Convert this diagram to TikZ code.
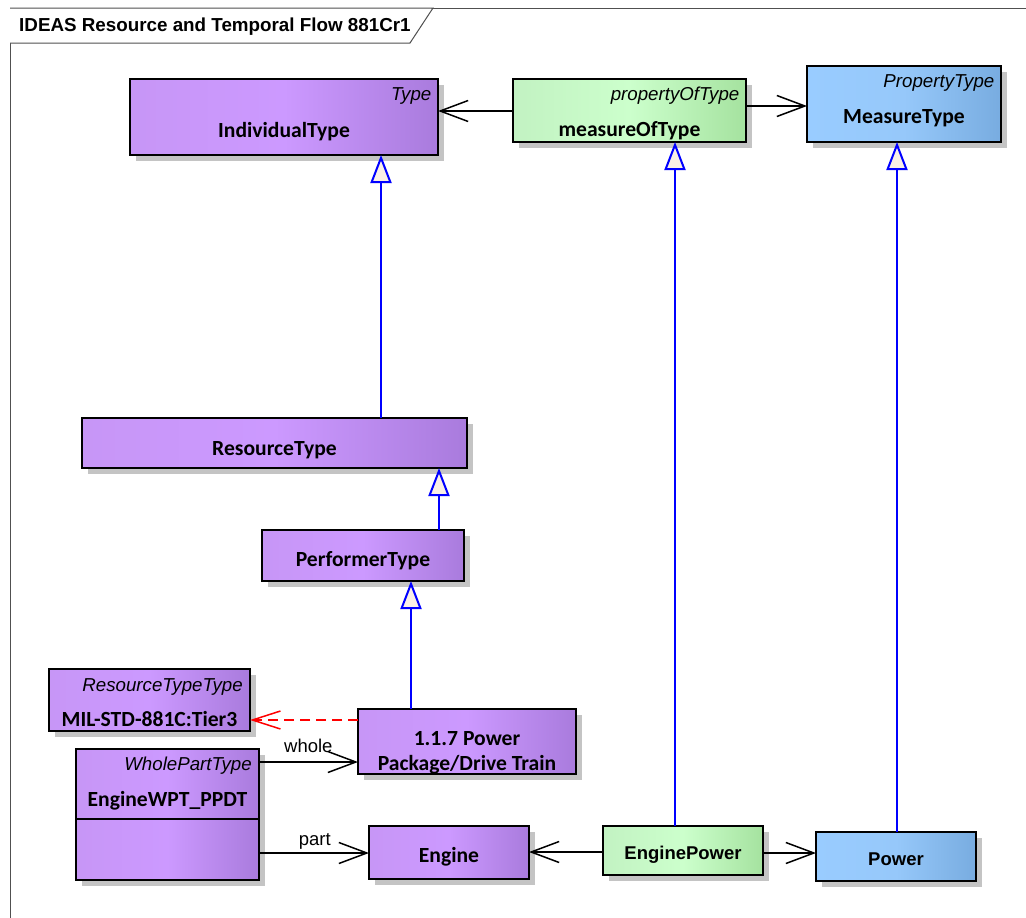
\documentclass[tikz,border=0pt]{standalone}
\usepackage{fontspec}
\setmainfont{Carlito}
\newfontfamily\arialfont{Liberation Sans}
\usetikzlibrary{arrows.meta,shadows,calc}

\definecolor{purL}{HTML}{C796F6}
\definecolor{purM}{HTML}{CC99FF}
\definecolor{purR}{HTML}{A97BDD}
\definecolor{grnL}{HTML}{C2F2C2}
\definecolor{grnM}{HTML}{CCFFCC}
\definecolor{grnR}{HTML}{A5E29F}
\definecolor{bluL}{HTML}{99CCFF}
\definecolor{bluM}{HTML}{96C8FA}
\definecolor{bluR}{HTML}{78ACE0}
\definecolor{shadowgray}{HTML}{C4C4C4}
\definecolor{genfill}{HTML}{FAF0E6}
\definecolor{framegray}{HTML}{505050}

\tikzset{
  umlbox/.style={draw=black, line width=2pt, inner sep=0pt, outer sep=0pt,
    drop shadow={shadow xshift=6pt, shadow yshift=-6pt, fill=shadowgray, opacity=1}},
  purplebox/.style={umlbox, left color=purL, right color=purR, middle color=purM},
  greenbox/.style={umlbox, left color=grnL, right color=grnR, middle color=grnM},
  bluebox/.style={umlbox, left color=bluL, right color=bluR, middle color=bluM},
  nametext/.style={inner sep=0pt, anchor=base, align=center,
    font=\fontsize{21.6}{25}\selectfont\bfseries},
  arialname/.style={inner sep=0pt, anchor=base,
    font=\arialfont\bfseries\fontsize{18.5}{22}\selectfont},
  stereotext/.style={inner sep=0pt, anchor=base east,
    font=\arialfont\itshape\fontsize{18.7}{22}\selectfont},
  roletext/.style={inner sep=0pt, anchor=base west,
    font=\arialfont\fontsize{18.5}{22}\selectfont},
  assoc/.style={draw=black, line width=1.5pt,
    -{Straight Barb[length=28pt, width=21pt, line width=1.5pt]}},
  gen/.style={draw=blue, line width=2pt,
    -{Triangle[length=28pt, width=21pt, fill=genfill, line width=2pt]}},
  depend/.style={draw=red, line width=1.5pt, dash pattern=on 10pt off 6pt,
    -{Straight Barb[length=28pt, width=18pt, line width=1.5pt]}},
}

\begin{document}
\begin{tikzpicture}[x=1pt, y=-1pt]
\useasboundingbox (0,0) rectangle (1026,918);
\fill[white] (0,0) rectangle (1026,918);

% diagram frame and its title tab
\draw[framegray, line width=1pt] (10,918) -- (10,8) -- (1026,8);
\draw[framegray, line width=1pt, fill=white] (10,8) -- (433,8) -- (410,43) -- (10,43);
\node[inner sep=0pt, anchor=base west, font=\arialfont\bfseries\fontsize{18.8}{22}\selectfont]
  (title) at (19,31.7) {IDEAS Resource and Temporal Flow 881Cr1};

% classes
\node[purplebox, minimum width=308pt, minimum height=76pt] (indiv) at (284,117) {};
\node[greenbox,  minimum width=233pt, minimum height=63pt] (mot)   at (629.5,110.5) {};
\node[bluebox,   minimum width=194pt, minimum height=76pt] (meas)  at (904,104) {};
\node[purplebox, minimum width=385pt, minimum height=50pt] (res)   at (274.5,443) {};
\node[purplebox, minimum width=202pt, minimum height=51pt] (perf)  at (363,555.5) {};
\node[purplebox, minimum width=201pt, minimum height=62pt] (mil)   at (149.5,700) {};
\node[purplebox, minimum width=218pt, minimum height=65pt] (ppdt)  at (467,741.5) {};
\node[purplebox, minimum width=183pt, minimum height=131pt] (wpt)  at (167.5,814.5) {};
\node[purplebox, minimum width=160pt, minimum height=53pt] (engine) at (449,852.5) {};
\node[greenbox,  minimum width=160pt, minimum height=49pt] (ep)    at (683,850.5) {};
\node[bluebox,   minimum width=160pt, minimum height=49pt] (power) at (896,856.5) {};

% compartment line of the whole-part class
\coordinate (wptdiv) at (0,819);
\draw[black, line width=1.5pt] (wpt.west |- wptdiv) -- (wpt.east |- wptdiv);

% stereotypes
\node[stereotext] (indivst) at ($(indiv.north east)+(-6.5,21)$) {Type};
\node[stereotext] (motst)   at ($(mot.north east)+(-6.5,21.5)$) {propertyOfType};
\node[stereotext] (measst)  at ($(meas.north east)+(-6.5,21)$) {PropertyType};
\node[stereotext] (milst)   at ($(mil.north east)+(-7,22)$) {ResourceTypeType};
\node[stereotext] (wptst)   at ($(wpt.north east)+(-7,21.5)$) {WholePartType};

% class names
\node[nametext] (indivname)  at ($(indiv.north)+(0,58)$) {IndividualType};
\node[nametext] (motname)    at ($(mot.north)+(0,57)$) {measureOfType};
\node[nametext] (measname)   at ($(meas.north)+(0,57.5)$) {MeasureType};
\node[nametext] (resname)    at ($(res.north)+(0,37)$) {ResourceType};
\node[nametext] (perfname)   at ($(perf.north)+(0,36.7)$) {PerformerType};
\node[nametext] (milname)    at ($(mil.north)+(0,57)$) {MIL-STD-881C:Tier3};
\node[nametext] (ppdtname)   at ($(ppdt.north)+(0,61.7)$) {1.1.7 Power\\Package/Drive Train};
\node[nametext] (wptname)    at ($(wpt.north)+(0,57)$) {EngineWPT\_PPDT};
\node[nametext] (enginename) at ($(engine.north)+(0,36.7)$) {Engine};
\node[arialname] (epname)    at ($(ep.north)+(0,33)$) {EnginePower};
\node[arialname] (powername) at ($(power.north)+(0,33)$) {Power};

% generalizations
\coordinate (gx1) at (381,0);
\coordinate (gx2) at (439,0);
\coordinate (gx3) at (411,0);
\coordinate (gx4) at (675,0);
\coordinate (gx5) at (897,0);
\draw[gen] (res.north -| gx1)  -- (indiv.south -| gx1);
\draw[gen] (perf.north -| gx2) -- (res.south -| gx2);
\draw[gen] (ppdt.north -| gx3) -- (perf.south -| gx3);
\draw[gen] (ep.north -| gx4)   -- (mot.south -| gx4);
\draw[gen] (power.north -| gx5) -- (meas.south -| gx5);

% associations
\coordinate (ay1) at (0,111);
\coordinate (ay2) at (0,106);
\coordinate (ay3) at (0,762);
\coordinate (ay4) at (0,853);
\coordinate (ay5) at (0,852);
\draw[assoc] (mot.west |- ay1) -- (indiv.east |- ay1);
\draw[assoc] (mot.east |- ay2) -- (meas.west |- ay2);
\draw[assoc] (wpt.east |- ay3) -- (ppdt.west |- ay3);
\draw[assoc] (wpt.east |- ay4) -- (engine.west |- ay4);
\draw[assoc] (ep.west |- ay5) -- (engine.east |- ay5);
\draw[assoc] (ep.east |- ay4) -- (power.west |- ay4);

% role names
\node[roletext] (whole) at (284,752.7) {whole};
\node[roletext] (part)  at (298.6,845.3) {part};

% dependency
\coordinate (dy) at (0,720);
\draw[depend] (ppdt.west |- dy) -- (mil.east |- dy);
\end{tikzpicture}
\end{document}
